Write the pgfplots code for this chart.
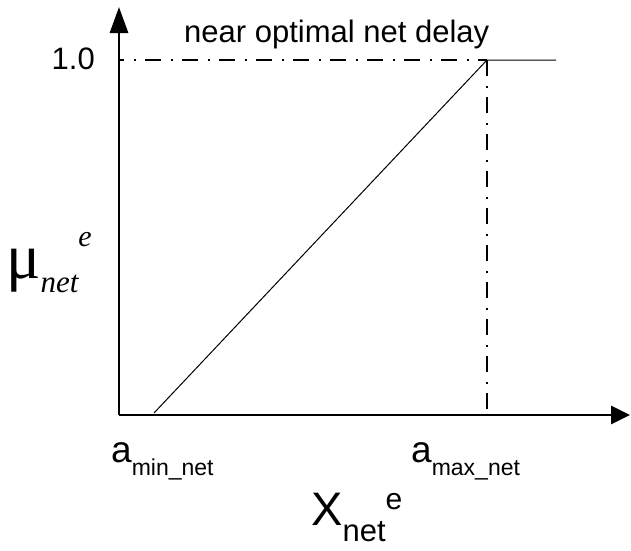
\documentclass[border=0pt]{standalone}
\usepackage{pgfplots}
\pgfplotsset{compat=1.18}
\usepackage{fontspec}
\setmainfont{Liberation Sans}
\newfontfamily\serif{Liberation Serif}
\usetikzlibrary{arrows.meta}
\begin{document}
\begin{tikzpicture}
\begin{axis}[
  scale only axis,
  width=511pt, height=408pt,
  xmin=119, xmax=630, ymin=135, ymax=543,
  axis lines=left,
  axis line style={line width=2.8pt},
  x axis line style={-{Triangle[length=19pt,width=18pt]}},
  y axis line style={-{Triangle[length=26pt,width=18pt]}},
  xtick=\empty, ytick=\empty,
  clip=false,
]
\addplot[black, line width=1pt, mark=none] coordinates {(154,137) (487,490) (556,490)};
\addplot[black, line width=2pt, mark=none, dash pattern=on 16pt off 10pt on 2pt off 9pt, dash phase=11pt] coordinates {(119,490) (487,490)};
\addplot[black, line width=2pt, mark=none, dash pattern=on 16pt off 10pt on 2pt off 9pt] coordinates {(487,490) (487,135)};

\node[anchor=base east, inner sep=0pt, font=\fontsize{31}{36}\selectfont] at (axis cs:95,481) {1.0};
\node[anchor=base west, inner sep=0pt, font=\fontsize{31}{36}\selectfont] at (axis cs:184,508) {near optimal net delay};
\node[anchor=base west, inner sep=0pt] at (axis cs:111,88) {\fontsize{37}{40}\selectfont a\raisebox{-13pt}{\fontsize{23}{28}\selectfont min\_net}};
\node[anchor=base west, inner sep=0pt] at (axis cs:411,88) {\fontsize{37}{40}\selectfont a\raisebox{-13pt}{\fontsize{23}{28}\selectfont max\_net}};
\node[anchor=base west, inner sep=0pt] at (axis cs:311,25) {\fontsize{47}{50}\selectfont X\raisebox{-16pt}{\fontsize{31}{36}\selectfont net}\raisebox{16pt}{\fontsize{30}{36}\selectfont e}};
\node[anchor=base west, inner sep=0pt] at (axis cs:6,272) {\serif\fontsize{64}{66}\selectfont μ\raisebox{-14pt}{\itshape\fontsize{31}{36}\selectfont net}\raisebox{32pt}{\itshape\fontsize{30}{36}\selectfont e}};

\coordinate (BL) at (axis cs:0,0);
\coordinate (TR) at (axis cs:631,550);
\end{axis}
\pgfresetboundingbox
\path[use as bounding box] (BL) rectangle (TR);
\end{tikzpicture}
\end{document}
